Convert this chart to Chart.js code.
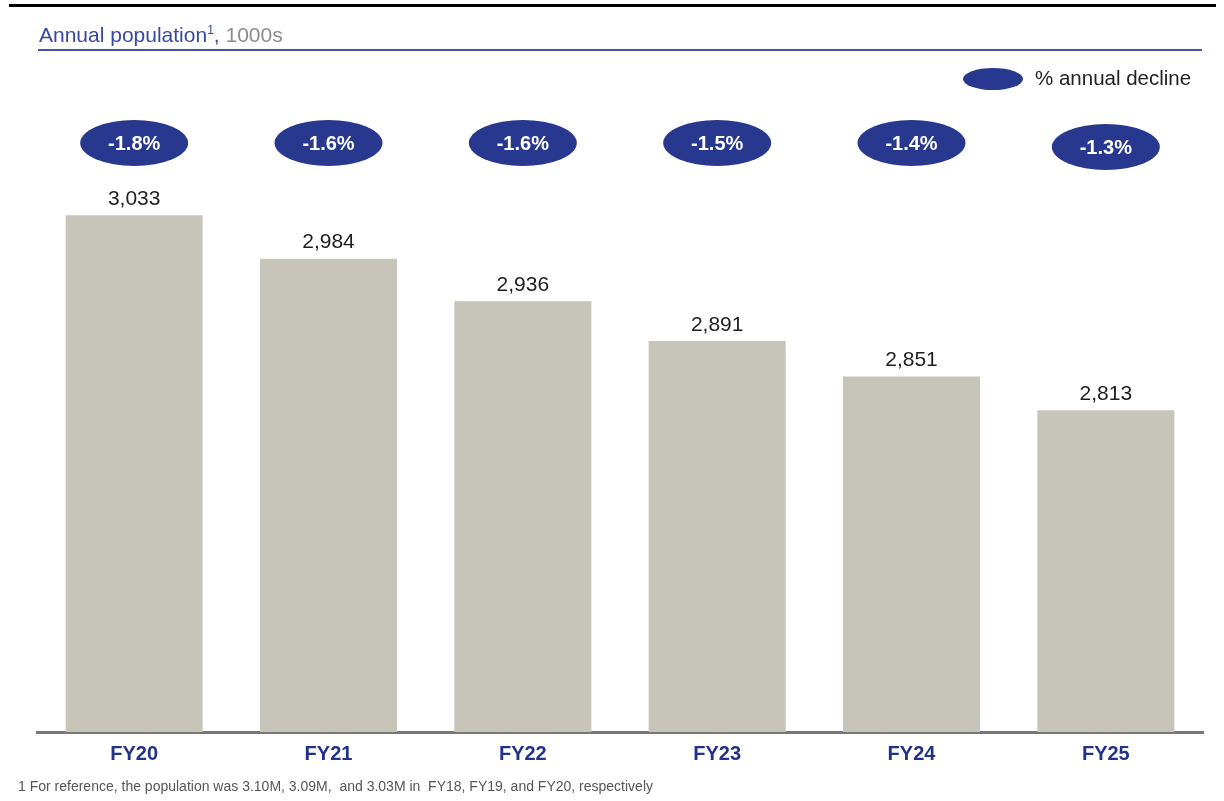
<!DOCTYPE html>
<html>
<head>
<meta charset="utf-8">
<script src="https://cdn.jsdelivr.net/npm/chart.js@4.4.0/dist/chart.umd.min.js"></script>
<style>
  html, body { margin: 0; padding: 0; background: #fff; }
  #wrap { position: relative; width: 1224px; height: 801px; overflow: hidden; font-family: "Liberation Sans", Arial, sans-serif; }
  #c { position: absolute; left: 0; top: 0; }
  #topline { position: absolute; left: 9px; top: 4px; width: 1207px; height: 3px; background: #000; }
  #title { position: absolute; left: 39px; top: 23px; font-size: 21px; color: #3a48a3; white-space: nowrap; }
  #title sup { font-size: 12px; vertical-align: 0; position: relative; top: -8px; }
  #title .unit { color: #8c8c8c; }
  #underline { position: absolute; left: 38px; top: 49px; width: 1164px; height: 1.5px; background: #4352ad; }
  #legend { position: absolute; left: 963px; top: 66px; white-space: nowrap; }
  #legend .ell { position: absolute; left: 0; top: 2px; width: 60px; height: 22px; border-radius: 50%; background: #28388f; }
  #legend .txt { position: absolute; left: 72px; top: 0px; font-size: 20.5px; color: #222; }
  #foot { position: absolute; left: 18px; top: 778px; font-size: 14px; color: #555; white-space: nowrap; }
</style>
</head>
<body>
<div id="wrap">
  <canvas id="c" width="1224" height="801"></canvas>
  <div id="topline"></div>
  <div id="title">Annual population<sup>1</sup>, <span class="unit">1000s</span></div>
  <div id="underline"></div>
  <div id="legend"><div class="ell"></div><div class="txt">% annual decline</div></div>
  <div id="foot">1 For reference, the population was 3.10M, 3.09M,&nbsp; and 3.03M in&nbsp; FY18, FY19, and FY20, respectively</div>
</div>
<script>
const categories = ['FY20', 'FY21', 'FY22', 'FY23', 'FY24', 'FY25'];
const population = [3033, 2984, 2936, 2891, 2851, 2813];
const annualDecline = [-1.8, -1.6, -1.6, -1.5, -1.4, -1.3];

const FONT = '"Liberation Sans", Arial, sans-serif';
const NAVY = '#28388f';

const labelsPlugin = {
  id: 'labelsPlugin',
  afterDatasetsDraw(chart) {
    const ctx = chart.ctx;
    const meta = chart.getDatasetMeta(0);
    ctx.save();
    meta.data.forEach((bar, i) => {
      ctx.fillStyle = '#1e1e1e';
      ctx.font = '21px ' + FONT;
      ctx.textAlign = 'center';
      ctx.textBaseline = 'middle';
      ctx.fillText(population[i].toLocaleString('en-US'), bar.x, bar.y - 16);
      const cy = 143 + (i === 5 ? 4 : 0);
      ctx.beginPath();
      ctx.ellipse(bar.x, cy, 54, 23, 0, 0, Math.PI * 2);
      ctx.fillStyle = NAVY;
      ctx.fill();
      ctx.fillStyle = '#ffffff';
      ctx.font = 'bold 20px ' + FONT;
      ctx.fillText(annualDecline[i].toFixed(1) + '%', bar.x, cy + 1);
    });
    ctx.restore();
  }
};

new Chart(document.getElementById('c'), {
  type: 'bar',
  data: {
    labels: categories,
    datasets: [{
      data: population,
      backgroundColor: '#c7c5b9',
      borderWidth: 0,
      barPercentage: 0.705,
      categoryPercentage: 1.0
    }]
  },
  options: {
    responsive: false,
    animation: false,
    devicePixelRatio: 1,
    layout: { padding: { left: 37, right: 21, top: 100, bottom: 0 } },
    plugins: { legend: { display: false }, tooltip: { enabled: false } },
    scales: {
      x: {
        grid: { display: false, drawTicks: false },
        border: { display: true, color: '#777777', width: 3 },
        ticks: { color: '#22318a', font: { family: FONT, size: 20, weight: 'bold' }, padding: 10 },
        afterFit(scale) { scale.height = 69; }
      },
      y: { display: false, min: 2450, max: 3163 }
    }
  },
  plugins: [labelsPlugin]
});
</script>
</body>
</html>
